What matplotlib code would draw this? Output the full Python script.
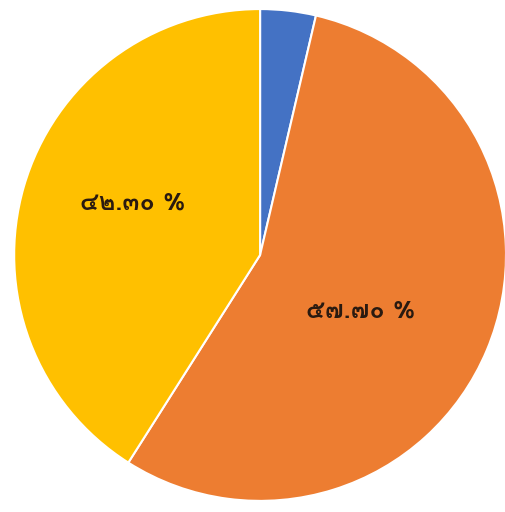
import matplotlib
matplotlib.use("Agg")
import matplotlib.pyplot as plt
from matplotlib import font_manager
from matplotlib.ft2font import FT2Font

# ข้อมูล (อ่านค่าจากภาพ)
slice_names = ["blue", "orange", "yellow"]
slice_values = [3.65, 55.35, 41.0]
slice_labels = ["", "๕๗.๗๐ %", "๔๒.๓๐ %"]
slice_colors = ["#4472C4", "#ED7D31", "#FFC000"]


def thai_family():
    # หาฟอนต์ที่มีตัวเลขไทย
    for f in font_manager.fontManager.ttflist:
        try:
            cmap = FT2Font(f.fname).get_charmap()
        except Exception:
            continue
        if 0x0E54 in cmap and 0x0E57 in cmap:
            return f.name
    return None


fam = thai_family()
families = ([fam] if fam else []) + ["DejaVu Sans"]

fig = plt.figure(figsize=(5.06, 5.12), dpi=100)
ax = fig.add_axes([0.028, 0.02, 0.972, 0.964])

wedges, texts = ax.pie(slice_values, colors=slice_colors, startangle=90,
                       counterclock=False, labels=slice_labels,
                       labeldistance=0.5,
                       wedgeprops=dict(edgecolor="white", linewidth=1.5),
                       textprops=dict(fontsize=18, fontweight="bold",
                                      color="#2a1a10", family=families))
# ปรับระยะป้ายให้ตรงกับภาพต้นฉบับ
texts[1].set_position((0.41, -0.23))
texts[2].set_position((-0.52, 0.21))
for t in texts:
    t.set_ha("center")
    t.set_va("center")

ax.set_xlim(-1.0, 1.0)
ax.set_ylim(-1.0, 1.0)
ax.set_aspect("equal")
ax.axis("off")

fig.savefig("out.png", dpi=100, facecolor="white")
